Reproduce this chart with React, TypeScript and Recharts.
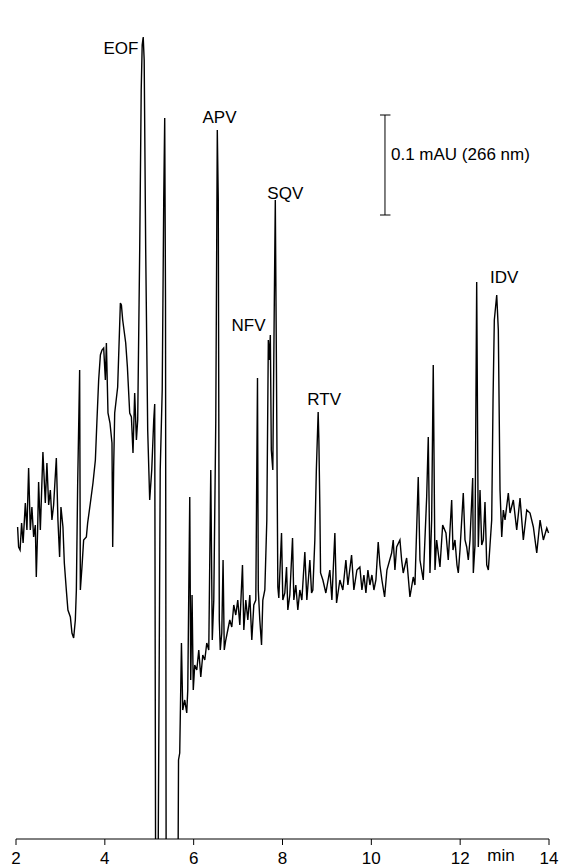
import React from 'react';
import { LineChart, Line, XAxis, YAxis, ReferenceLine, ReferenceDot } from 'recharts';

// migration time (min)
const time = [
  2.036, 2.059, 2.092, 2.126, 2.16, 2.21, 2.246, 2.284, 2.322, 2.358, 2.397, 2.435, 2.457, 2.487, 2.509, 2.548,
  2.606, 2.66, 2.696, 2.735, 2.773, 2.809, 2.847, 2.908, 2.944, 2.982, 3.012, 3.057, 3.088, 3.133, 3.169, 3.224,
  3.26, 3.298, 3.336, 3.359, 3.388, 3.433, 3.449, 3.485, 3.523, 3.584, 3.613, 3.674, 3.733, 3.787, 3.823, 3.861,
  3.9, 3.936, 3.974, 4.012, 4.035, 4.071, 4.116, 4.161, 4.177, 4.199, 4.222, 4.289, 4.35, 4.373, 4.402, 4.47,
  4.508, 4.56, 4.598, 4.634, 4.672, 4.711, 4.74, 4.785, 4.819, 4.841, 4.864, 4.886, 4.92, 4.965, 5.01, 5.056,
  5.101, 5.123, 5.146, 5.191, 5.247, 5.292, 5.326, 5.348, 5.366, 5.382, 5.506, 5.641, 5.659, 5.686, 5.725, 5.754,
  5.799, 5.844, 5.867, 5.912, 5.934, 5.964, 5.991, 6.024, 6.07, 6.115, 6.16, 6.205, 6.25, 6.295, 6.34, 6.385,
  6.419, 6.453, 6.498, 6.532, 6.554, 6.577, 6.599, 6.633, 6.662, 6.689, 6.723, 6.768, 6.813, 6.858, 6.903, 6.948,
  6.993, 7.039, 7.099, 7.129, 7.174, 7.219, 7.264, 7.309, 7.354, 7.399, 7.437, 7.455, 7.489, 7.528, 7.557, 7.602,
  7.647, 7.681, 7.703, 7.726, 7.748, 7.782, 7.816, 7.838, 7.861, 7.895, 7.917, 7.978, 8.007, 8.052, 8.091, 8.12,
  8.165, 8.226, 8.255, 8.3, 8.345, 8.39, 8.436, 8.503, 8.548, 8.616, 8.654, 8.683, 8.728, 8.762, 8.803, 8.819,
  8.841, 8.857, 8.909, 8.976, 9.066, 9.112, 9.179, 9.217, 9.292, 9.359, 9.427, 9.472, 9.555, 9.607, 9.675, 9.742,
  9.788, 9.833, 9.878, 9.923, 9.968, 10.013, 10.058, 10.103, 10.155, 10.193, 10.238, 10.299, 10.351, 10.457, 10.493, 10.531,
  10.57, 10.644, 10.682, 10.718, 10.795, 10.869, 10.944, 10.982, 11.056, 11.095, 11.169, 11.246, 11.282, 11.32, 11.358, 11.394,
  11.433, 11.471, 11.545, 11.606, 11.68, 11.732, 11.809, 11.838, 11.883, 11.928, 11.958, 11.996, 12.07, 12.109, 12.147, 12.183,
  12.221, 12.282, 12.296, 12.334, 12.372, 12.408, 12.447, 12.485, 12.521, 12.559, 12.598, 12.634, 12.672, 12.71, 12.74, 12.769,
  12.823, 12.859, 12.897, 12.936, 12.972, 13.01, 13.084, 13.123, 13.197, 13.273, 13.348, 13.422, 13.499, 13.573, 13.648, 13.724,
  13.799, 13.873, 13.95, 13.99,
];

// absorbance (mAU), below-axis excursions clipped by the plot
const signal = [
  0.312, 0.292, 0.289, 0.316, 0.296, 0.336, 0.309, 0.371, 0.309, 0.332, 0.302, 0.314, 0.262, 0.309, 0.357, 0.309,
  0.387, 0.336, 0.376, 0.334, 0.349, 0.319, 0.334, 0.381, 0.319, 0.282, 0.332, 0.312, 0.276, 0.249, 0.229, 0.222,
  0.206, 0.201, 0.219, 0.249, 0.354, 0.469, 0.249, 0.272, 0.299, 0.302, 0.316, 0.336, 0.356, 0.379, 0.419, 0.459,
  0.484, 0.489, 0.491, 0.459, 0.496, 0.426, 0.416, 0.396, 0.292, 0.372, 0.426, 0.452, 0.536, 0.534, 0.519, 0.496,
  0.472, 0.426, 0.422, 0.386, 0.446, 0.399, 0.419, 0.589, 0.749, 0.794, 0.802, 0.779, 0.589, 0.409, 0.339, 0.369,
  0.419, 0.435, -0.1, -0.1, 0.369, 0.449, 0.639, 0.721, 0.539, -0.1, -0.1, -0.1, 0.079, 0.086, 0.196, 0.129,
  0.139, 0.126, 0.149, 0.342, 0.159, 0.244, 0.149, 0.174, 0.169, 0.189, 0.162, 0.184, 0.179, 0.196, 0.189, 0.369,
  0.199, 0.239, 0.419, 0.709, 0.639, 0.219, 0.189, 0.206, 0.279, 0.189, 0.199, 0.209, 0.219, 0.212, 0.234, 0.224,
  0.239, 0.214, 0.274, 0.209, 0.239, 0.219, 0.244, 0.199, 0.234, 0.239, 0.461, 0.249, 0.219, 0.194, 0.239, 0.249,
  0.319, 0.499, 0.479, 0.504, 0.389, 0.369, 0.539, 0.639, 0.489, 0.252, 0.241, 0.306, 0.239, 0.246, 0.272, 0.229,
  0.244, 0.301, 0.239, 0.254, 0.229, 0.249, 0.239, 0.287, 0.239, 0.279, 0.246, 0.249, 0.299, 0.369, 0.427, 0.399,
  0.332, 0.266, 0.259, 0.246, 0.269, 0.239, 0.306, 0.236, 0.259, 0.249, 0.279, 0.254, 0.284, 0.249, 0.269, 0.272,
  0.249, 0.264, 0.246, 0.269, 0.254, 0.264, 0.249, 0.259, 0.297, 0.274, 0.259, 0.242, 0.269, 0.286, 0.299, 0.269,
  0.292, 0.299, 0.279, 0.266, 0.281, 0.242, 0.262, 0.254, 0.362, 0.279, 0.259, 0.342, 0.402, 0.266, 0.319, 0.474,
  0.269, 0.299, 0.272, 0.314, 0.306, 0.279, 0.339, 0.289, 0.299, 0.274, 0.266, 0.289, 0.346, 0.299, 0.292, 0.279,
  0.299, 0.361, 0.266, 0.294, 0.557, 0.292, 0.349, 0.294, 0.299, 0.337, 0.274, 0.269, 0.294, 0.319, 0.439, 0.519,
  0.544, 0.509, 0.349, 0.302, 0.329, 0.319, 0.346, 0.326, 0.339, 0.309, 0.341, 0.299, 0.329, 0.326, 0.312, 0.286,
  0.319, 0.299, 0.311, 0.306,
];

const xTicks = [2, 4, 6, 8, 10, 12, 14];

// peak names with their label anchor [time, mAU]
const peakNames = ['EOF', 'APV', 'NFV', 'SQV', 'RTV', 'IDV'];
const peakLabelTime = [4.364, 6.581, 7.234, 8.063, 8.938, 12.99];
const peakLabelValue = [0.791, 0.722, 0.514, 0.646, 0.44, 0.562];

const data = time.map((t, i) => ({ t, v: signal[i] }));

const labelStyle = { fill: '#000', fontSize: 17 };

export default function App() {
  return (
    <div style={{ width: 561, height: 868, background: '#fff', fontFamily: '"Liberation Sans", Arial, sans-serif' }}>
      <style>{'body{margin:0}'}</style>
      <LineChart width={561} height={868} data={data} margin={{ top: 0, right: 12, left: 16, bottom: 0 }}>
        <XAxis
          dataKey="t"
          type="number"
          domain={[2, 14]}
          ticks={xTicks}
          interval={0}
          height={29}
          tickSize={6}
          tickMargin={7}
          axisLine={{ stroke: '#000' }}
          tickLine={{ stroke: '#000' }}
          tick={{ fill: '#000', fontSize: 17 }}
        />
        <YAxis
          type="number"
          domain={[0, 0.839]}
          allowDataOverflow
          width={0}
          tick={false}
          tickLine={false}
          axisLine={{ stroke: '#000' }}
        />
        <Line
          dataKey="v"
          type="linear"
          stroke="#000"
          strokeWidth={1.4}
          dot={false}
          activeDot={false}
          isAnimationActive={false}
        />
        {/* scale bar */}
        <ReferenceLine segment={[{ x: 10.307, y: 0.724 }, { x: 10.307, y: 0.624 }]} stroke="#000" ifOverflow="visible" />
        <ReferenceLine segment={[{ x: 10.195, y: 0.724 }, { x: 10.431, y: 0.724 }]} stroke="#000" ifOverflow="visible" />
        <ReferenceLine segment={[{ x: 10.195, y: 0.624 }, { x: 10.431, y: 0.624 }]} stroke="#000" ifOverflow="visible" />
        <ReferenceDot
          x={10.442}
          y={0.685}
          r={0}
          stroke="none"
          ifOverflow="visible"
          label={{ value: '0.1 mAU (266 nm)', position: 'right', offset: 0, ...labelStyle }}
        />
        {peakNames.map((name, i) => (
          <ReferenceDot
            key={name}
            x={peakLabelTime[i]}
            y={peakLabelValue[i]}
            r={0}
            stroke="none"
            ifOverflow="visible"
            label={{ value: name, position: 'center', ...labelStyle }}
          />
        ))}
        <ReferenceDot
          x={12.918}
          y={-0.016}
          r={0}
          stroke="none"
          ifOverflow="visible"
          label={{ value: 'min', position: 'center', ...labelStyle }}
        />
      </LineChart>
    </div>
  );
}
